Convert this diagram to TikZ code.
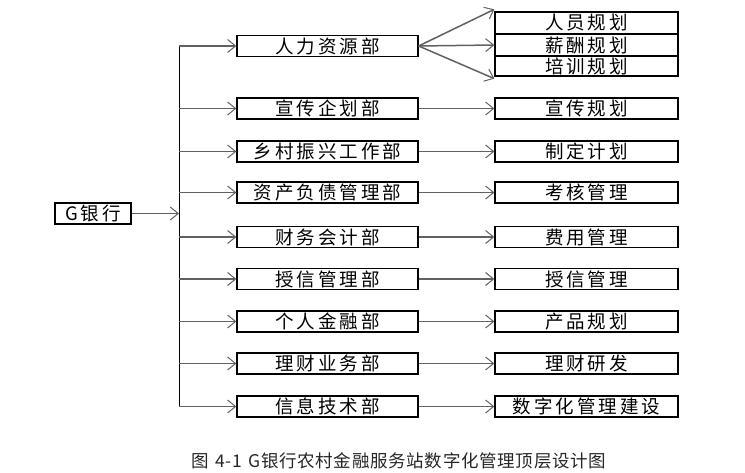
\documentclass[tikz,border=0pt]{standalone}
\usepackage{fontspec}
\usetikzlibrary{arrows.meta}
\newfontfamily\cjk{Noto Sans CJK SC}
\newfontfamily\cjkwide[LetterSpace=16]{Noto Sans CJK SC}
\newfontfamily\cjkcap[LetterSpace=4]{Noto Sans CJK SC}
\begin{document}
\begin{tikzpicture}[x=1pt,y=-1pt,
  boxs/.style={draw=black,line width=1.3pt,fill=white,inner sep=0pt,
    font=\cjkwide\fontsize{18.5}{18.5}\selectfont},
  midbox/.style={boxs,minimum width=181pt,minimum height=21pt},
  rbox/.style={boxs,minimum width=183pt,minimum height=21pt},
  conn/.style={draw=black!62,line width=1.5pt,
    -{Straight Barb[length=8pt,width=13pt,line width=1pt]}},
  caption/.style={font=\cjkcap\fontsize{17.5}{18}\selectfont,text=black!85}]
\useasboundingbox (0,0) rectangle (745,473);

% G bank
\node[boxs,minimum width=76pt,minimum height=21pt] (g) at (93,213.5) {G银行};

% trunk
\coordinate (vtop) at (179,46);
\coordinate (vbot) at (179,407);
\coordinate (vmid) at (179,213.5);
\draw[black,line width=1pt] (vtop) -- (vbot);
\draw[conn] (g.east) -- (vmid);

% middle column
\node[midbox] (m1) at (327.5,46) {人力资源部};
\node[midbox] (m2) at (327.5,108.5) {宣传企划部};
\node[midbox] (m3) at (327.5,151.5) {乡村振兴工作部};
\node[midbox] (m4) at (327.5,192.5) {资产负债管理部};
\node[midbox] (m5) at (327.5,237) {财务会计部};
\node[midbox] (m6) at (327.5,279) {授信管理部};
\node[midbox] (m7) at (327.5,321.5) {个人金融部};
\node[midbox] (m8) at (327.5,363.5) {理财业务部};
\node[midbox] (m9) at (327.5,406.5) {信息技术部};

% right column
\node[rbox,minimum height=22pt] (r1a) at (586.5,23) {人员规划};
\node[rbox,minimum height=22pt] (r1b) at (586.5,45) {薪酬规划};
\node[rbox,minimum height=20pt] (r1c) at (586.5,66) {培训规划};
\node[rbox] (r2) at (586.5,108.5) {宣传规划};
\node[rbox] (r3) at (586.5,151.5) {制定计划};
\node[rbox] (r4) at (586.5,192.5) {考核管理};
\node[rbox] (r5) at (586.5,237) {费用管理};
\node[rbox] (r6) at (586.5,279) {授信管理};
\node[rbox] (r7) at (586.5,321.5) {产品规划};
\node[rbox] (r8) at (586.5,363.5) {理财研发};
\node[rbox] (r9) at (586.5,406.5) {数字化管理建设};

% branches from trunk
\foreach \i in {1,...,9}{
  \draw[conn] (m\i.west -| vtop) -- (m\i.west);
}
% fan from m1
\draw[conn] (m1.east) -- ([yshift=2pt]r1a.north west);
\draw[conn] (m1.east) -- (r1b.west);
\draw[conn] (m1.east) -- ([yshift=-2pt]r1c.south west);
% straight links
\foreach \i in {2,...,9}{
  \draw[conn] (m\i.east) -- (r\i.west);
}

% caption
\node[caption] (cap) at (399,461) {图\hspace{6pt}4-1\hspace{6pt}G银行农村金融服务站数字化管理顶层设计图};
\end{tikzpicture}
\end{document}
